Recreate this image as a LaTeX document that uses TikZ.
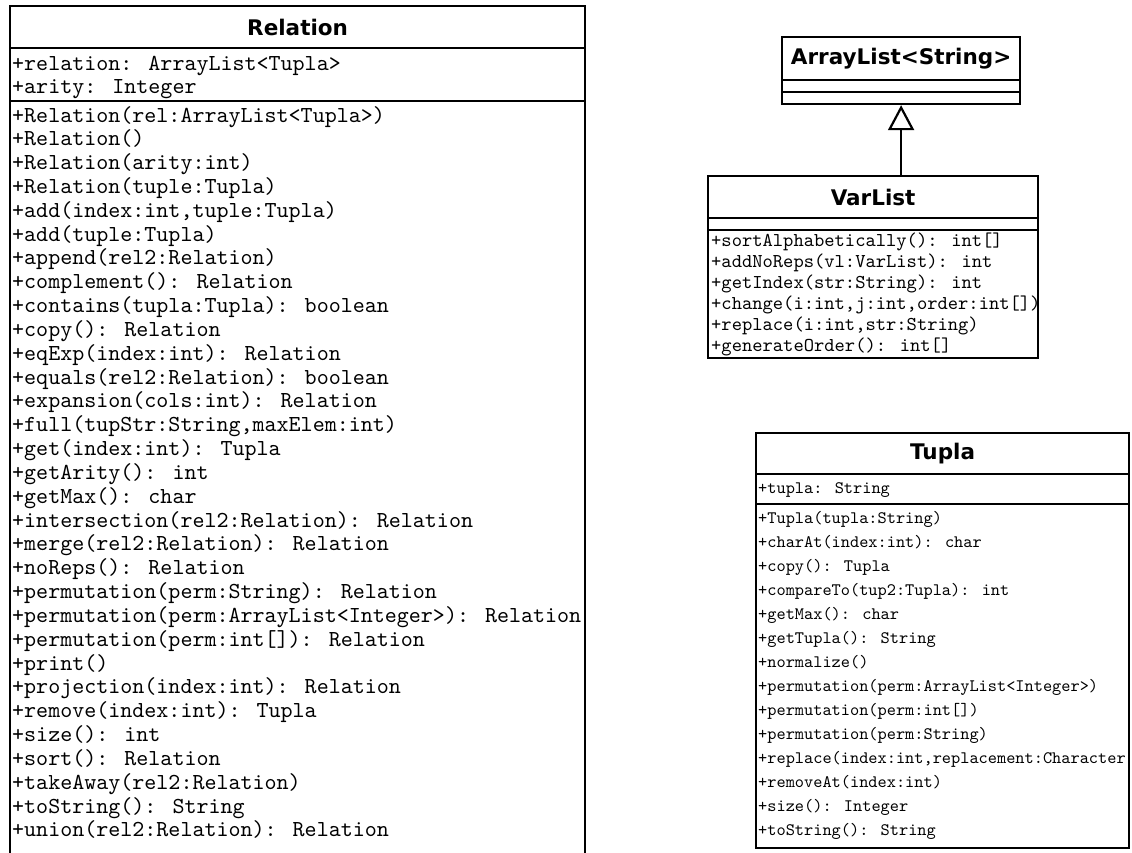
\documentclass[tikz,border=0pt]{standalone}
\usepackage{fontspec}
\usetikzlibrary{arrows.meta}
\newfontfamily\ttlfont{DejaVu Sans}[BoldFont={DejaVu Sans Bold}]
\newfontfamily\courf{lmmono10-regular.otf}
\newcommand\monoRel{\courf\fontsize{22.9}{26}\selectfont}
\newcommand\monoVar{\courf\fontsize{19.6}{22}\selectfont}
\newcommand\monoTup{\courf\fontsize{17.5}{20}\selectfont}
\begin{document}
\begin{tikzpicture}[x=1pt,y=1pt,
  comp/.style={draw, line width=2.2pt, inner sep=0pt, anchor=north west},
  ttl/.style={font=\ttlfont\bfseries\fontsize{21.5}{24}\selectfont, inner sep=0pt},
  rrow/.style={font=\monoRel, anchor=base west, inner sep=0pt},
  vrow/.style={font=\monoVar, anchor=base west, inner sep=0pt},
  trow/.style={font=\monoTup, anchor=base west, inner sep=0pt},
  inherit/.style={line width=2.2pt, -{Triangle[open, length=25pt, width=26pt, line width=2.2pt]}}]
\useasboundingbox[fill=white] (0,0) rectangle (1132,-852);

% ---------- Relation ----------
\node[comp, minimum width=575, minimum height=42] (relT) at (9,-5) {};
\node[comp, minimum width=575, minimum height=53] (relA) at (9,-47) {};
\node[comp, minimum width=575, minimum height=780] (relM) at (9,-100) {};
\node[ttl] (relName) at (relT.center) {Relation};
\node[rrow] (ra1) at (12,-70) {+relation: ArrayList<Tupla>};
\node[rrow] (ra2) at (12,-93) {+arity: Integer};
\foreach \txt [count=\i from 0] in {
  {+Relation(rel:ArrayList<Tupla>)},
  {+Relation()},
  {+Relation(arity:int)},
  {+Relation(tuple:Tupla)},
  {+add(index:int,tuple:Tupla)},
  {+add(tuple:Tupla)},
  {+append(rel2:Relation)},
  {+complement(): Relation},
  {+contains(tupla:Tupla): boolean},
  {+copy(): Relation},
  {+eqExp(index:int): Relation},
  {+equals(rel2:Relation): boolean},
  {+expansion(cols:int): Relation},
  {+full(tupStr:String,maxElem:int)},
  {+get(index:int): Tupla},
  {+getArity(): int},
  {+getMax(): char},
  {+intersection(rel2:Relation): Relation},
  {+merge(rel2:Relation): Relation},
  {+noReps(): Relation},
  {+permutation(perm:String): Relation},
  {+permutation(perm:ArrayList<Integer>): Relation},
  {+permutation(perm:int[]): Relation},
  {+print()},
  {+projection(index:int): Relation},
  {+remove(index:int): Tupla},
  {+size(): int},
  {+sort(): Relation},
  {+takeAway(rel2:Relation)},
  {+toString(): String},
  {+union(rel2:Relation): Relation}}
  { \node[rrow] (rm\i) at (12,{-122-23.83*\i}) {\txt}; }

% ---------- ArrayList<String> ----------
\node[comp, minimum width=238, minimum height=43] (alT) at (781,-36) {};
\node[comp, minimum width=238, minimum height=12] (alA) at (781,-79) {};
\node[comp, minimum width=238, minimum height=12] (alM) at (781,-91) {};
\node[ttl] (alName) at (alT.center) {ArrayList<String>};

% ---------- VarList ----------
\node[comp, minimum width=330, minimum height=42] (vlT) at (707,-175) {};
\node[comp, minimum width=330, minimum height=12] (vlA) at (707,-217) {};
\node[comp, minimum width=330, minimum height=128] (vlM) at (707,-229) {};
\node[ttl] (vlName) at (vlT.center) {VarList};
\foreach \txt [count=\i from 0] in {
  {+sortAlphabetically(): int[]},
  {+addNoReps(vl:VarList): int},
  {+getIndex(str:String): int},
  {+change(i:int,j:int,order:int[])},
  {+replace(i:int,str:String)},
  {+generateOrder(): int[]}}
  { \node[vrow] (vm\i) at (711,{-246.5-21*\i}) {\txt}; }

\draw[inherit] (vlT.north -| alM.south) -- (alM.south);

% ---------- Tupla ----------
\node[comp, minimum width=373, minimum height=41] (tpT) at (755,-432) {};
\node[comp, minimum width=373, minimum height=30] (tpA) at (755,-473) {};
\node[comp, minimum width=373, minimum height=344] (tpM) at (755,-503) {};
\node[ttl] (tpName) at (tpT.center) {Tupla};
\node[trow] (ta1) at (758,-493) {+tupla: String};
\foreach \txt [count=\i from 0] in {
  {+Tupla(tupla:String)},
  {+charAt(index:int): char},
  {+copy(): Tupla},
  {+compareTo(tup2:Tupla): int},
  {+getMax(): char},
  {+getTupla(): String},
  {+normalize()},
  {+permutation(perm:ArrayList<Integer>)},
  {+permutation(perm:int[])},
  {+permutation(perm:String)},
  {+replace(index:int,replacement:Character},
  {+removeAt(index:int)},
  {+size(): Integer},
  {+toString(): String}}
  { \node[trow] (tm\i) at (758,{-523-24*\i}) {\txt}; }
\end{tikzpicture}
\end{document}
